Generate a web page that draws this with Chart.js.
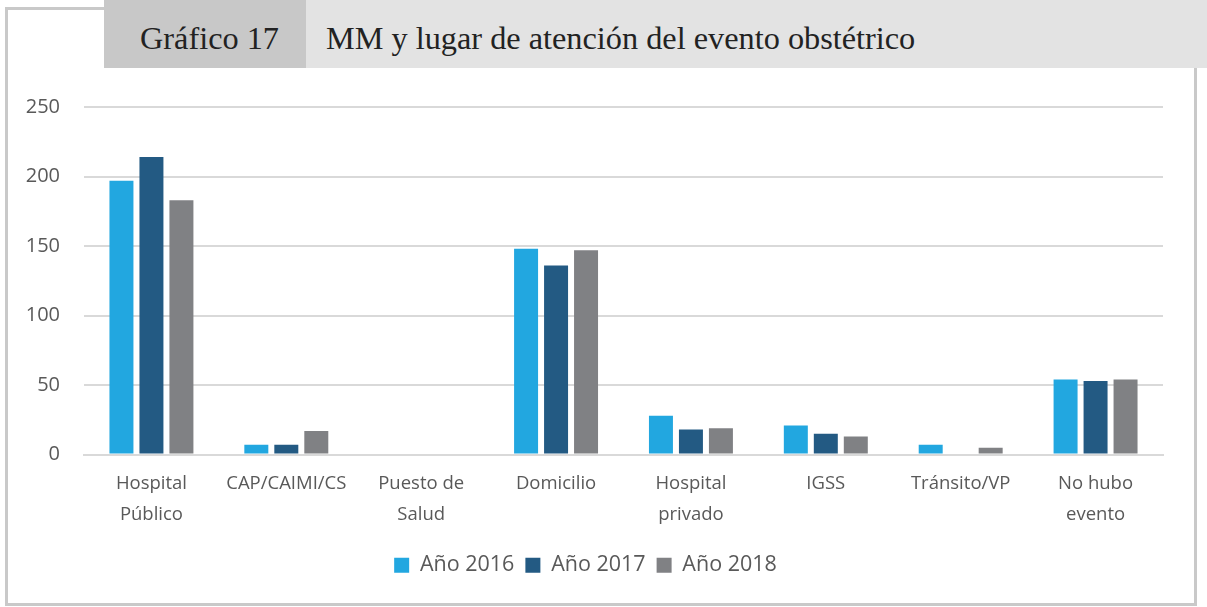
<!DOCTYPE html>
<html>
<head>
<meta charset="utf-8">
<script src="https://cdn.jsdelivr.net/npm/chart.js@4.4.0/dist/chart.umd.min.js"></script>
<style>
  body { margin: 0; background: #fff; width: 1207px; height: 607px; position: relative; overflow: hidden; }
  .frame { position: absolute; left: 5px; top: 7px; width: 1186px; height: 593px; border: 3px solid #c9c9c9; box-sizing: content-box; }
  .band { position: absolute; left: 104px; top: 0; width: 1103px; height: 68px; background: #e3e3e3; }
  .band .num { position: absolute; left: 0; top: 0; width: 202px; height: 68px; background: #c8c8c8; }
  .band span { position: absolute; font-family: "Liberation Serif", "Times New Roman", serif; font-size: 32.3px; color: #222; top: 20px; }
  .wrap { position: absolute; left: 8px; top: 68px; width: 1184px; height: 532px; }
</style>
</head>
<body>
<div class="frame"></div>
<div class="band"><div class="num"></div>
  <span style="left:36px">Gráfico 17</span>
  <span style="left:222px">MM y lugar de atención del evento obstétrico</span>
</div>
<div class="wrap"><canvas id="myChart"></canvas></div>
<script>
const categories = [
    ['Hospital', 'Público'], 'CAP/CAIMI/CS', ['Puesto de', 'Salud'], 'Domicilio',
    ['Hospital', 'privado'], 'IGSS', 'Tránsito/VP', ['No hubo', 'evento']
];
const anio2016 = [197, 7, 0, 148, 28, 21, 7, 54];
const anio2017 = [214, 7, 0, 136, 18, 15, 0, 53];
const anio2018 = [183, 17, 0, 147, 19, 13, 5, 54];
const yTicks = [0, 50, 100, 150, 200, 250];

const textColor = '#595959';
const gridColor = '#d9d9d9';

const config = {
    type: 'bar',
    data: {
        labels: categories,
        datasets: [
            { label: 'Año 2016', data: anio2016, backgroundColor: '#22a7e0' },
            { label: 'Año 2017', data: anio2017, backgroundColor: '#235a83' },
            { label: 'Año 2018', data: anio2018, backgroundColor: '#808184' }
        ]
    },
    options: {
        responsive: true,
        maintainAspectRatio: false,
        animation: false,
        datasets: { bar: { categoryPercentage: 0.667, barPercentage: 0.8 } },
        layout: { padding: { top: 39, right: 29, left: 0, bottom: 14 } },
        plugins: {
            tooltip: { enabled: false },
            legend: {
                position: 'bottom',
                labels: {
                    color: textColor,
                    font: { family: 'Open Sans', size: 21.5 },
                    boxWidth: 15, boxHeight: 15,
                    padding: 11
                }
            }
        },
        scales: {
            x: {
                grid: { display: false, drawTicks: false },
                border: { display: true, color: gridColor, width: 2 },
                ticks: {
                    color: textColor,
                    font: { family: 'Open Sans', size: 18.5, lineHeight: 1.7 },
                    padding: 13,
                    maxRotation: 0, autoSkip: false
                }
            },
            y: {
                min: 0, max: 250,
                afterBuildTicks: s => { s.ticks = yTicks.map(v => ({ value: v })); },
                afterFit: s => { s.width = 76; },
                grid: { color: gridColor, lineWidth: 2, drawTicks: false },
                border: { display: false },
                ticks: {
                    color: textColor,
                    font: { family: 'Open Sans', size: 20 },
                    padding: 24
                }
            }
        }
    }
};

new Chart(document.getElementById('myChart'), config);
</script>
</body>
</html>
